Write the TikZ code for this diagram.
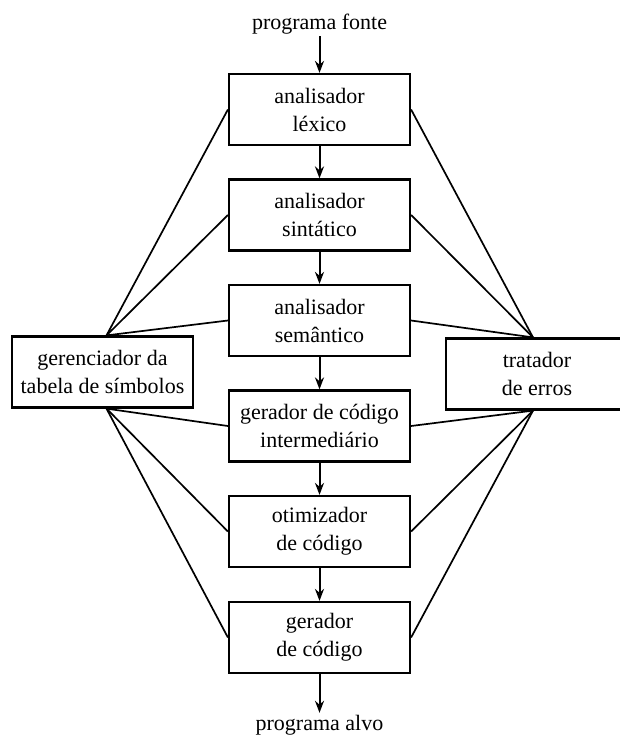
\documentclass[tikz,border=0pt]{standalone}
\usepackage{fontspec}
\setmainfont{Liberation Serif}
\usetikzlibrary{arrows.meta,calc}
\begin{document}
\begin{tikzpicture}[x=1pt,y=-1pt,
  phase/.style={draw,line width=2.2pt,minimum width=181pt,minimum height=71pt,inner sep=0pt,align=center,
    font=\fontsize{22}{28}\selectfont},
  side/.style={draw,line width=2.2pt,minimum height=71pt,inner sep=0pt,align=center,
    font=\fontsize{22}{28}\selectfont},
  lbl/.style={inner sep=2pt,font=\fontsize{22}{28}\selectfont},
  flow/.style={line width=2pt,-{Stealth[length=12pt,width=9pt]}},
  link/.style={line width=1.7pt}]
\useasboundingbox (0,0) rectangle (620,736);
\clip (0,0) rectangle (620,736);
\node[lbl] (src) at (319.5,24) {programa fonte};
\node[phase] (b1) at (319.5,109.5) {analisador\\léxico};
\node[phase] (b2) at (319.5,215) {analisador\\sintático};
\node[phase] (b3) at (319.5,320.5) {analisador\\semântico};
\node[phase] (b4) at (319.5,426) {gerador de código\\intermediário};
\node[phase] (b5) at (319.5,531.5) {otimizador\\de código};
\node[phase] (b6) at (319.5,637.5) {gerador\\de código};
\node[lbl] (dst) at (319.5,725) {programa alvo};
\node[side,minimum width=181pt] (L) at (102.5,372) {gerenciador da\\tabela de símbolos};
\node[side,minimum width=182pt] (R) at (537,374) {tratador\\de erros};
\coordinate (Lt) at ($(L.north)+(4,0)$);
\coordinate (Lb) at ($(L.south)+(4,0)$);
\coordinate (Rt) at ($(R.north)+(-4,0)$);
\coordinate (Rb) at ($(R.south)+(-4,0)$);
\draw[flow] (src) -- (b1);
\draw[flow] (b1) -- (b2);
\draw[flow] (b2) -- (b3);
\draw[flow] (b3) -- (b4);
\draw[flow] (b4) -- (b5);
\draw[flow] (b5) -- (b6);
\draw[flow] (b6) -- (dst);
\foreach \b in {b1,b2,b3} {
  \draw[link] (Lt) -- (\b.west);
  \draw[link] (Rt) -- (\b.east);
}
\foreach \b in {b4,b5,b6} {
  \draw[link] (Lb) -- (\b.west);
  \draw[link] (Rb) -- (\b.east);
}
\end{tikzpicture}
\end{document}
